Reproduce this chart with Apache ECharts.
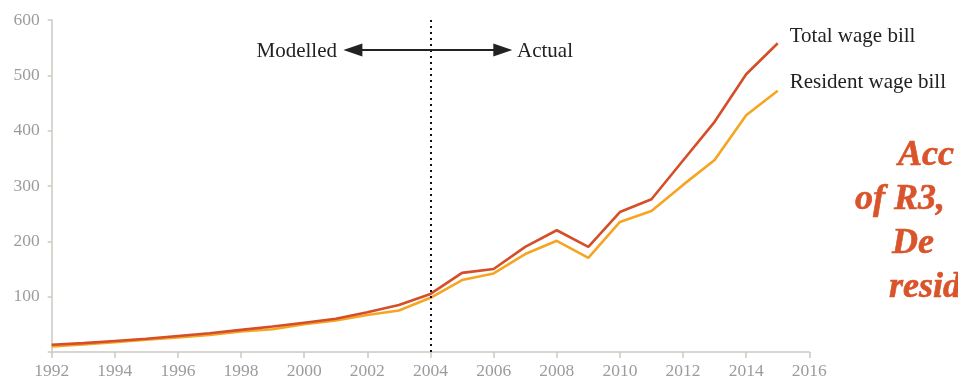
<!DOCTYPE html>
<html>
<head>
<meta charset="utf-8">
<script src="https://cdn.jsdelivr.net/npm/echarts@6/dist/echarts.min.js"></script>
<style>
  html, body { margin: 0; padding: 0; background: #fff; }
  #chart { width: 958px; height: 381px; }
</style>
</head>
<body>
<div id="chart"></div>
<script>
// Years on the horizontal axis
const years = [1992, 1993, 1994, 1995, 1996, 1997, 1998, 1999, 2000, 2001, 2002, 2003,
               2004, 2005, 2006, 2007, 2008, 2009, 2010, 2011, 2012, 2013, 2014, 2015];

// Wage bills (modelled before 2004, actual from 2004)
const totalWageBill    = [13, 16, 20, 24, 29, 34, 40, 46, 53, 60, 72, 85,
                          105, 143, 150, 190, 220, 190, 253, 276, 346, 416, 502, 558];
const residentWageBill = [10, 13.5, 17.5, 22, 26.5, 31, 37, 41, 50, 57, 67, 75,
                          98, 130, 142, 177, 201, 170, 235, 255, 302, 347, 428, 472];

const seriesNames = ['Total wage bill', 'Resident wage bill'];

// Axis ticks
const yTicks = { min: 0, max: 600, step: 100 };
const xTicks = { min: 1992, max: 2016, step: 2 };

// Split between modelled and actual data, and the span of the double arrow
const splitYear = 2004;
const arrowSpan = [2001.54, 2006.29];
const arrowLevel = 546;

// Side note, cut off by the right edge of the canvas
const noteLines = ['Acc', 'of R3,', 'De', 'resid'];

const serif = '"Liberation Serif", "DejaVu Serif", serif';
const RED = '#d44e28';
const ORANGE = '#f6a523';
const AXIS = '#cdc7c0';
const NOTE = '#d9532b';

const chart = echarts.init(document.getElementById('chart'), null, { renderer: 'canvas' });

const toPairs = vals => years.map((y, i) => [y, vals[i]]);

const noteX = [898, 855, 892, 889];
const noteBase = [168, 212, 256, 300];

chart.setOption({
  animation: false,
  grid: { left: 51.7, right: 148.7, top: 20, bottom: 29, containLabel: false },
  xAxis: {
    type: 'value',
    min: xTicks.min, max: xTicks.max, interval: xTicks.step,
    axisLine: { lineStyle: { color: AXIS, width: 1.5 } },
    axisTick: { show: true, length: 6, lineStyle: { color: AXIS, width: 1.5 } },
    splitLine: { show: false },
    axisLabel: {
      color: '#9c9c9c', fontFamily: serif, fontSize: 17.5, margin: 10,
      formatter: v => String(v)
    }
  },
  yAxis: {
    type: 'value',
    min: yTicks.min, max: yTicks.max, interval: yTicks.step,
    axisLine: { show: true, lineStyle: { color: AXIS, width: 1.5 } },
    axisTick: { show: true, length: 4, lineStyle: { color: AXIS, width: 1.5 } },
    splitLine: { show: false },
    axisLabel: {
      color: '#9c9c9c', fontFamily: serif, fontSize: 17.5, margin: 12,
      formatter: v => (v === 0 ? '' : String(v))
    }
  },
  series: [
    {
      name: seriesNames[1],
      type: 'line',
      data: toPairs(residentWageBill),
      showSymbol: false,
      clip: false,
      lineStyle: { color: ORANGE, width: 2.6 },
      itemStyle: { color: ORANGE },
      endLabel: {
        show: true, formatter: seriesNames[1], distance: 12, offset: [0, -8],
        color: '#222', fontFamily: serif, fontSize: 21
      }
    },
    {
      name: seriesNames[0],
      type: 'line',
      data: toPairs(totalWageBill),
      showSymbol: false,
      clip: false,
      lineStyle: { color: RED, width: 2.6 },
      itemStyle: { color: RED },
      endLabel: {
        show: true, formatter: seriesNames[0], distance: 12, offset: [0, -7],
        color: '#222', fontFamily: serif, fontSize: 21
      },
      markLine: {
        silent: true,
        label: { show: false },
        data: [
          [
            { coord: [splitYear, yTicks.min], symbol: 'none',
              lineStyle: { color: '#111', width: 2, type: [2, 4] } },
            { coord: [splitYear, yTicks.max], symbol: 'none' }
          ],
          [
            { coord: [arrowSpan[0], arrowLevel], symbol: 'triangle', symbolSize: [13, 19],
              lineStyle: { color: '#222', width: 2, type: 'solid' } },
            { coord: [arrowSpan[1], arrowLevel], symbol: 'triangle', symbolSize: [13, 19] }
          ]
        ],
        lineStyle: { color: '#222' },
        itemStyle: { color: '#222' }
      }
    }
  ],
  graphic: [
    { type: 'text', x: 337, y: 51,
      style: { text: 'Modelled', fontFamily: serif, fontSize: 21, fill: '#222',
               align: 'right', verticalAlign: 'middle' } },
    { type: 'text', x: 517, y: 51,
      style: { text: 'Actual', fontFamily: serif, fontSize: 21, fill: '#222',
               align: 'left', verticalAlign: 'middle' } }
  ].concat(noteLines.map((t, i) => ({
    type: 'text', x: noteX[i], y: noteBase[i] - 12,
    style: { text: t, fontFamily: serif, fontSize: 36, fontStyle: 'italic',
             fontWeight: 700, fill: NOTE, stroke: NOTE, lineWidth: 0.6,
             align: 'left', verticalAlign: 'middle' }
  })))
});
</script>
</body>
</html>
